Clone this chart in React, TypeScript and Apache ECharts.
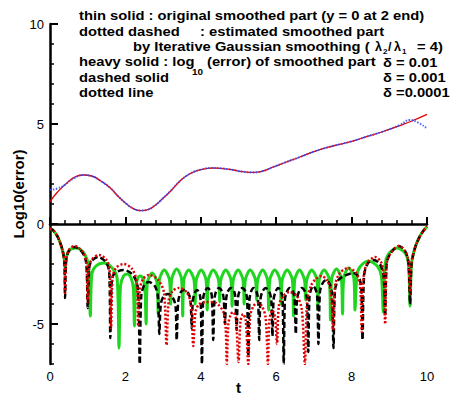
import React, { useEffect, useRef } from 'react';
import * as echarts from 'echarts';

// upper curves: [t, log10]
const originalSmooth: number[][] = [
  [0, 1.12], [0.2, 1.6], [0.45, 2.05], [0.7, 2.38], [0.9, 2.45], [1.1, 2.4], [1.35, 2.15], [1.6, 1.8],
  [1.8, 1.4], [2.0, 1.05], [2.2, 0.78], [2.4, 0.67], [2.6, 0.72], [2.8, 0.95], [2.95, 1.2], [3.2, 1.65],
  [3.45, 2.15], [3.7, 2.5], [4.0, 2.72], [4.33, 2.8], [4.6, 2.77], [4.86, 2.7], [5.1, 2.62], [5.4, 2.58],
  [5.65, 2.65], [5.92, 2.85], [6.2, 3.05], [6.63, 3.35], [7.0, 3.62], [7.5, 3.9], [8.0, 4.13], [8.4, 4.37],
  [8.8, 4.6], [9.28, 4.92], [9.6, 5.15], [10, 5.48],
];
const estimatedSmooth: number[][] = [
  [0, 1.7], [0.2, 1.78], [0.4, 1.97], [0.6, 2.25], [0.9, 2.45], [1.1, 2.4], [1.35, 2.15], [1.6, 1.8],
  [1.8, 1.4], [2.0, 1.05], [2.2, 0.78], [2.4, 0.67], [2.6, 0.72], [2.8, 0.95], [2.95, 1.2], [3.2, 1.65],
  [3.45, 2.15], [3.7, 2.5], [4.0, 2.72], [4.33, 2.8], [4.6, 2.77], [4.86, 2.7], [5.1, 2.62], [5.4, 2.58],
  [5.65, 2.65], [5.92, 2.85], [6.2, 3.05], [6.63, 3.35], [7.0, 3.62], [7.5, 3.9], [8.0, 4.13], [8.4, 4.37],
  [8.8, 4.6], [9.28, 4.95], [9.55, 5.2], [9.75, 5.08], [10, 4.78],
];

// heavy solid: delta = 0.01
const errDelta001: number[][] = [
  [0, -0.22], [0.1, -0.35], [0.22, -0.7], [0.33, -1.3], [0.38, -1.8], [0.40, -2.2], [0.43, -1.7], [0.52, -1.3],
  [0.70, -1.2], [0.90, -1.45], [1.02, -2.1], [1.07, -4.6], [1.11, -2.5], [1.22, -2.1], [1.42, -1.95], [1.65, -2.2],
  [1.78, -2.7], [1.83, -6.2], [1.87, -3.1], [1.95, -2.6], [2.05, -2.5], [2.15, -2.7], [2.21, -3.2], [2.24, -5.1],
  [2.27, -3.2], [2.33, -2.7], [2.40, -2.6], [2.48, -2.8], [2.52, -3.3], [2.55, -5.0],
  [2.58, -2.95], [2.71, -2.45], [2.84, -2.95], [2.87, -4.5],
  [2.90, -2.8], [3.03, -2.3], [3.17, -2.8], [3.20, -4.0],
  [3.23, -2.75], [3.36, -2.25], [3.49, -2.75], [3.52, -4.6],
  [3.55, -2.8], [3.68, -2.3], [3.82, -2.8], [3.85, -4.0],
  [3.88, -2.8], [4.01, -2.3], [4.14, -2.8], [4.17, -4.3],
  [4.20, -2.8], [4.33, -2.3], [4.47, -2.8], [4.50, -3.9],
  [4.53, -2.8], [4.66, -2.3], [4.80, -2.8], [4.83, -4.1],
  [4.86, -2.8], [4.99, -2.3], [5.12, -2.8], [5.15, -4.0],
  [5.18, -2.8], [5.31, -2.3], [5.45, -2.8], [5.48, -3.8],
  [5.51, -2.8], [5.64, -2.3], [5.77, -2.8], [5.80, -4.3],
  [5.83, -2.8], [5.96, -2.3], [6.10, -2.8], [6.13, -4.0],
  [6.16, -2.8], [6.29, -2.3], [6.43, -2.8], [6.46, -4.6],
  [6.49, -2.8], [6.62, -2.3], [6.75, -2.8], [6.78, -3.8],
  [6.81, -2.8], [6.94, -2.3], [7.08, -2.8], [7.11, -4.3],
  [7.14, -2.8], [7.27, -2.3], [7.41, -2.8], [7.44, -4.8],
  [7.47, -2.75], [7.60, -2.25], [7.73, -2.75], [7.76, -4.5],
  [7.79, -2.7], [7.92, -2.2], [8.06, -2.7], [8.09, -4.3],
  [8.14, -2.6], [8.22, -2.15], [8.45, -1.85], [8.68, -2.1], [8.79, -2.6], [8.84, -4.4],
  [8.89, -2.0], [8.98, -1.5], [9.2, -1.2], [9.42, -1.45], [9.51, -2.0], [9.55, -4.1],
  [9.59, -2.0], [9.68, -1.2], [9.8, -0.65], [9.9, -0.35], [10, -0.12],
];

// dashed solid: delta = 0.001
const errDelta0001: number[][] = [
  [0, -0.22], [0.1, -0.35], [0.22, -0.7], [0.33, -1.3], [0.38, -1.9], [0.40, -3.7], [0.43, -1.8], [0.5, -1.35],
  [0.65, -1.15], [0.85, -1.4], [0.96, -1.95], [1.0, -4.2], [1.04, -2.2], [1.1, -1.85], [1.28, -1.65], [1.48, -1.9],
  [1.57, -2.4], [1.60, -5.7], [1.64, -2.8], [1.72, -2.45], [1.95, -2.3], [2.2, -2.55], [2.33, -3.2], [2.38, -7.0],
  [2.42, -3.6], [2.5, -3.05], [2.62, -2.9], [2.78, -3.1], [2.86, -3.6], [2.90, -5.5], [2.94, -4.0], [3.02, -3.6],
  [3.13, -3.5], [3.26, -3.7], [3.33, -4.1], [3.36, -5.8], [3.40, -3.9], [3.47, -3.4], [3.56, -3.3], [3.68, -3.5],
  [3.73, -3.9], [3.76, -5.2], [3.79, -3.8], [3.85, -3.4], [3.90, -3.3], [3.97, -3.5], [4.0, -4.0], [4.03, -7.0],
  [4.06, -3.8], [4.1, -3.4], [4.18, -3.2], [4.27, -3.4], [4.30, -3.8], [4.33, -5.8], [4.36, -3.8], [4.4, -3.4],
  [4.48, -3.2], [4.57, -3.4], [4.61, -3.8], [4.64, -5.0], [4.67, -3.8], [4.71, -3.4], [4.80, -3.2], [4.89, -3.4],
  [4.92, -3.8], [4.95, -5.3], [4.98, -3.8], [5.02, -3.4], [5.10, -3.2], [5.19, -3.4], [5.23, -3.8], [5.26, -6.6],
  [5.29, -3.8], [5.33, -3.4], [5.40, -3.2], [5.48, -3.4], [5.52, -3.8], [5.55, -5.8], [5.58, -3.8], [5.63, -3.4],
  [5.72, -3.2], [5.82, -3.4], [5.87, -3.8], [5.90, -5.6], [5.93, -3.8], [5.98, -3.4], [6.05, -3.2], [6.13, -3.4],
  [6.17, -3.8], [6.20, -7.0], [6.23, -3.8], [6.28, -3.4], [6.36, -3.2], [6.45, -3.4], [6.49, -3.8], [6.52, -5.5],
  [6.55, -3.8], [6.60, -3.4], [6.68, -3.2], [6.77, -3.4], [6.82, -3.8], [6.85, -6.4], [6.88, -3.7], [6.92, -3.3],
  [6.98, -3.1], [7.05, -3.3], [7.09, -3.7], [7.12, -6.0], [7.16, -3.4], [7.22, -3.0], [7.32, -2.8], [7.42, -3.0],
  [7.48, -3.5], [7.52, -6.2], [7.56, -3.3], [7.65, -2.8], [7.8, -2.6], [8.05, -2.45], [8.2, -2.7], [8.26, -3.3],
  [8.29, -5.8], [8.33, -2.6], [8.42, -2.0], [8.58, -1.8], [8.75, -2.0], [8.85, -2.6], [8.89, -4.6], [8.93, -2.0],
  [9.02, -1.5], [9.25, -1.1], [9.42, -1.35], [9.51, -2.0], [9.55, -4.0], [9.59, -2.0], [9.68, -1.2], [9.8, -0.65],
  [9.9, -0.35], [10, -0.12],
];

// dotted line: delta = 0.0001
const errDelta00001: number[][] = [
  [0, -0.22], [0.1, -0.35], [0.22, -0.7], [0.33, -1.3], [0.38, -1.9], [0.40, -3.45], [0.43, -1.8], [0.5, -1.3],
  [0.65, -1.1], [0.85, -1.35], [0.96, -1.9], [1.0, -3.9], [1.04, -2.1], [1.12, -1.75], [1.3, -1.55], [1.5, -1.8],
  [1.58, -2.3], [1.62, -5.2], [1.66, -2.7], [1.75, -2.2], [1.95, -2.0], [2.18, -2.25], [2.3, -2.9], [2.34, -5.1],
  [2.38, -3.3], [2.47, -2.75], [2.62, -2.55], [2.85, -2.75], [3.02, -3.4], [3.09, -6.05], [3.15, -3.8], [3.25, -3.35],
  [3.42, -3.2], [3.62, -3.4], [3.74, -4.0], [3.80, -6.1], [3.86, -4.4], [3.96, -4.0], [4.15, -3.9], [4.4, -3.95],
  [4.6, -4.4], [4.66, -5.2], [4.69, -7.0], [4.73, -5.0], [4.8, -4.5], [4.86, -4.4], [4.93, -4.7], [5.0, -6.9],
  [5.05, -4.9], [5.12, -4.5], [5.19, -4.8], [5.26, -7.0], [5.31, -4.6], [5.4, -4.1], [5.5, -3.95], [5.62, -4.1],
  [5.72, -4.7], [5.78, -7.0], [5.82, -4.8], [5.9, -4.3], [5.97, -4.7], [6.02, -6.0], [6.07, -4.1], [6.18, -3.6],
  [6.35, -3.4], [6.55, -3.6], [6.68, -4.3], [6.76, -7.0], [6.82, -3.9], [6.92, -3.1], [7.05, -2.75], [7.2, -2.6],
  [7.35, -2.8], [7.45, -3.4], [7.51, -5.3], [7.56, -3.1], [7.67, -2.5], [7.9, -2.2], [8.1, -2.4], [8.22, -3.0],
  [8.27, -5.4], [8.32, -2.6], [8.42, -1.95], [8.62, -1.65], [8.78, -1.9], [8.85, -2.5], [8.89, -5.0], [8.93, -2.0],
  [9.02, -1.5], [9.25, -1.1], [9.42, -1.35], [9.51, -1.9], [9.55, -3.5], [9.59, -1.9], [9.68, -1.2], [9.8, -0.65],
  [9.9, -0.35], [10, -0.12],
];

const majorYTicks = [-5, 0, 5, 10];

const FONT = 'Arial, "Liberation Sans", sans-serif';

export default function App() {
  const ref = useRef<HTMLDivElement>(null);
  useEffect(() => {
    if (!ref.current) return;
    const chart = echarts.init(ref.current, null, { renderer: 'svg' });
    const txt = (text: string, x: number, y: number, size = 12.5, sx = 1.18) => ({
      type: 'text',
      x,
      y,
      scaleX: sx,
      silent: true,
      style: { text, x: 0, y: 0, font: `bold ${size}px ${FONT}`, fill: '#000', verticalAlign: 'middle', align: 'left' },
    });
    const option: any = {
      animation: false,
      backgroundColor: '#fff',
      grid: { left: 50, right: 30, top: 24, bottom: 32, outerBoundsMode: 'none', containLabel: false },
      xAxis: {
        type: 'value',
        min: 0,
        max: 10,
        interval: 2,
        name: 't',
        nameLocation: 'middle',
        nameGap: 16,
        nameMoveOverlap: false,
        nameTextStyle: { fontFamily: FONT, fontWeight: 'bold', fontSize: 15, color: '#000', lineHeight: 15 },
        axisLine: { lineStyle: { color: '#000', width: 2.5 } },
        axisTick: { show: true, inside: true, length: 7, lineStyle: { color: '#000', width: 2 } },
        minorTick: { show: true, splitNumber: 5, length: 4, lineStyle: { color: '#000', width: 1.5 } },
        axisLabel: { fontFamily: FONT, fontSize: 13, color: '#000', margin: 6 },
        splitLine: { show: false },
      },
      yAxis: {
        type: 'value',
        min: -7,
        max: 10,
        interval: 1,
        name: 'Log10(error)',
        nameLocation: 'middle',
        nameGap: 24,
        nameMoveOverlap: false,
        nameTextStyle: { fontFamily: FONT, fontWeight: 'bold', fontSize: 15, color: '#000' },
        axisLine: { show: true, lineStyle: { color: '#000', width: 2.5 } },
        axisTick: { show: true, inside: true, length: 4, lineStyle: { color: '#000', width: 1.5 } },
        axisLabel: {
          fontFamily: FONT,
          fontSize: 13,
          color: '#000',
          margin: 6,
          showMinLabel: true,
          showMaxLabel: true,
          formatter: (v: number) => (Math.round(v) % 5 === 0 ? String(Math.round(v)) : ''),
        },
        splitLine: { show: false },
      },
      series: [
        {
          type: 'line', data: errDelta001, showSymbol: false, smooth: 0.3, clip: true,
          lineStyle: { color: '#1fd51f', width: 3 }, z: 2,
        },
        {
          type: 'line', data: errDelta0001, showSymbol: false, smooth: 0.3, clip: true,
          lineStyle: { color: '#000', width: 2.5, type: [6, 3] }, z: 3,
        },
        {
          type: 'line', data: errDelta00001, showSymbol: false, smooth: 0.3, clip: true,
          lineStyle: { color: '#e00000', width: 2.5, type: [2, 2] }, z: 4,
        },
        {
          type: 'line', data: originalSmooth, showSymbol: false, smooth: 0.5,
          lineStyle: { color: '#e00000', width: 1.3 }, z: 5,
        },
        {
          type: 'line', data: estimatedSmooth, showSymbol: false, smooth: 0.5,
          lineStyle: { color: '#3050ff', width: 2, type: [1.5, 1.5], opacity: 0.85 }, z: 6,
        },
        {
          type: 'custom',
          silent: true,
          z: 10,
          data: majorYTicks.map((v) => [0, v]),
          renderItem: (_p: any, api: any) => {
            const p = api.coord([api.value(0), api.value(1)]);
            return {
              type: 'line',
              shape: { x1: p[0], y1: p[1], x2: p[0] + 8, y2: p[1] },
              style: { stroke: '#000', lineWidth: 2 },
            };
          },
        },
      ],
      graphic: [
        txt('thin solid : original smoothed part (y = 0 at 2 end)', 79, 16),
        txt('dotted dashed', 79, 32),
        txt(': estimated smoothed part', 200, 32),
        txt('by Iterative Gaussian smoothing (', 133, 47),
        txt('\u03bb', 375, 47, 12.5, 1),
        txt('2', 383, 51, 8, 1),
        txt('/', 388, 47, 12.5, 1),
        txt('\u03bb', 394, 47, 12.5, 1),
        txt('1', 402, 51, 8, 1),
        txt('= 4)', 417, 47),
        txt('heavy solid : log', 79, 62),
        txt('10', 192, 72, 9, 1.1),
        txt('(error) of smoothed part', 207, 62),
        txt('\u03b4 = 0.01', 383, 63),
        txt('dashed solid', 79, 78),
        txt('\u03b4 = 0.001', 383, 78),
        txt('dotted line', 79, 93),
        txt('\u03b4 =0.0001', 383, 93),
      ],
    };
    chart.setOption(option);
    return () => chart.dispose();
  }, []);
  return (
    <div
      ref={ref}
      style={{ position: 'fixed', left: 0, top: 0, width: 457, height: 396, background: '#fff' }}
    />
  );
}
